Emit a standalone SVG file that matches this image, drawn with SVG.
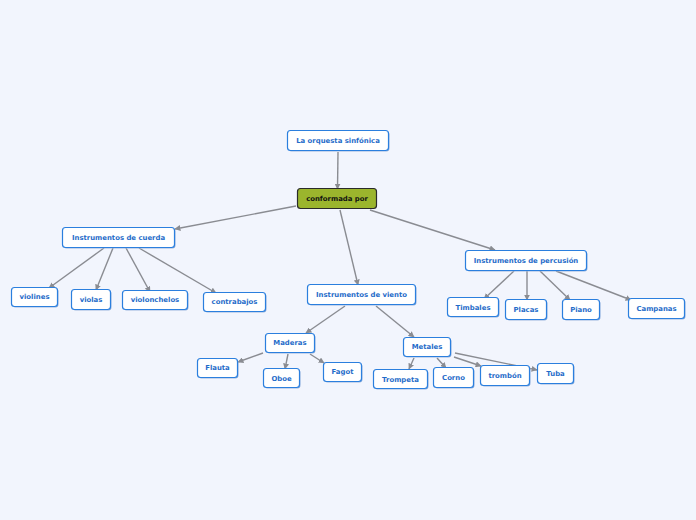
<svg xmlns="http://www.w3.org/2000/svg" width="696" height="520" viewBox="0 0 696 520">
<style>
.n rect.b{fill:#fff;stroke:#2b7fde;stroke-width:1.2}
.n rect.s{fill:#9bb6de}
.n text{font-family:"DejaVu Sans",Verdana,sans-serif;font-weight:bold;font-size:6.9px;fill:#1f6cc9;text-anchor:middle;dominant-baseline:central}
.r rect.b{fill:#9bb52d;stroke:#2a2a2a;stroke-width:1.2}
.r text{fill:#111}
.c line{stroke:#8a8c92;stroke-width:1.4;marker-end:url(#ah)}
</style>
<defs>
<marker id="ah" viewBox="0 0 10 10" refX="9" refY="5" markerWidth="6" markerHeight="6" markerUnits="userSpaceOnUse" orient="auto">
<path d="M0,0 L10,5 L0,10 Z" fill="#8a8c92"/>
</marker>
</defs>
<rect width="696" height="520" fill="#f2f5fd"/>
<g class="c">
<line x1="338" y1="152" x2="337.5" y2="189"/>
<line x1="296" y1="206" x2="175" y2="229"/>
<line x1="340" y1="210" x2="358" y2="285"/>
<line x1="370" y1="210" x2="495" y2="250"/>
<line x1="104" y1="248" x2="49" y2="288"/>
<line x1="113" y1="248" x2="96" y2="290"/>
<line x1="126" y1="248" x2="150" y2="292"/>
<line x1="139" y1="248" x2="216" y2="293"/>
<line x1="345" y1="306" x2="306" y2="333"/>
<line x1="376" y1="306" x2="414" y2="337"/>
<line x1="263" y1="353" x2="238" y2="362"/>
<line x1="288" y1="354" x2="285" y2="369"/>
<line x1="310" y1="354" x2="324" y2="363"/>
<line x1="414" y1="358" x2="409" y2="369"/>
<line x1="437" y1="358" x2="446" y2="368"/>
<line x1="454" y1="357" x2="481" y2="366"/>
<line x1="455" y1="353" x2="537" y2="370"/>
<line x1="514" y1="271" x2="484" y2="299"/>
<line x1="527" y1="271" x2="527" y2="300"/>
<line x1="540" y1="271" x2="570" y2="300"/>
<line x1="556" y1="271" x2="631" y2="300"/>
</g>
<g id="n-orquesta" class="n"><rect class="s" x="288.5" y="131.5" width="101" height="20" rx="3"/><rect class="b" x="287.5" y="130.5" width="101" height="20" rx="3"/><text x="338" y="140.5">La orquesta sinfónica</text></g>
<g id="n-conformada" class="n r"><rect class="b" x="297.5" y="188.5" width="79" height="20" rx="3"/><text x="337" y="198.5">conformada por</text></g>
<g id="n-cuerda" class="n"><rect class="s" x="63.5" y="228.5" width="112" height="20" rx="3"/><rect class="b" x="62.5" y="227.5" width="112" height="20" rx="3"/><text x="118.5" y="237.5">Instrumentos de cuerda</text></g>
<g id="n-violines" class="n"><rect class="s" x="12.5" y="288.5" width="46" height="19" rx="3"/><rect class="b" x="11.5" y="287.5" width="46" height="19" rx="3"/><text x="34.5" y="297">violines</text></g>
<g id="n-violas" class="n"><rect class="s" x="72.5" y="290.5" width="39" height="20" rx="3"/><rect class="b" x="71.5" y="289.5" width="39" height="20" rx="3"/><text x="91" y="299.5">violas</text></g>
<g id="n-violonchelos" class="n"><rect class="s" x="123.5" y="291.5" width="65" height="19" rx="3"/><rect class="b" x="122.5" y="290.5" width="65" height="19" rx="3"/><text x="155" y="300">violonchelos</text></g>
<g id="n-contrabajos" class="n"><rect class="s" x="204.5" y="293.5" width="62" height="19" rx="3"/><rect class="b" x="203.5" y="292.5" width="62" height="19" rx="3"/><text x="234.5" y="302">contrabajos</text></g>
<g id="n-viento" class="n"><rect class="s" x="308.5" y="285.5" width="108" height="20" rx="3"/><rect class="b" x="307.5" y="284.5" width="108" height="20" rx="3"/><text x="361.5" y="294.5">Instrumentos de viento</text></g>
<g id="n-maderas" class="n"><rect class="s" x="266.5" y="334.5" width="49" height="19" rx="3"/><rect class="b" x="265.5" y="333.5" width="49" height="19" rx="3"/><text x="290" y="343">Maderas</text></g>
<g id="n-flauta" class="n"><rect class="s" x="198.5" y="359.5" width="40" height="19" rx="3"/><rect class="b" x="197.5" y="358.5" width="40" height="19" rx="3"/><text x="217.5" y="368">Flauta</text></g>
<g id="n-oboe" class="n"><rect class="s" x="264.5" y="369.5" width="36" height="19" rx="3"/><rect class="b" x="263.5" y="368.5" width="36" height="19" rx="3"/><text x="281.5" y="378.5">Oboe</text></g>
<g id="n-fagot" class="n"><rect class="s" x="324.5" y="363.5" width="38" height="19" rx="3"/><rect class="b" x="323.5" y="362.5" width="38" height="19" rx="3"/><text x="342.5" y="372">Fagot</text></g>
<g id="n-metales" class="n"><rect class="s" x="404.5" y="338.5" width="47" height="19" rx="3"/><rect class="b" x="403.5" y="337.5" width="47" height="19" rx="3"/><text x="427" y="347">Metales</text></g>
<g id="n-trompeta" class="n"><rect class="s" x="374.5" y="370.5" width="54" height="19" rx="3"/><rect class="b" x="373.5" y="369.5" width="54" height="19" rx="3"/><text x="400.5" y="379.5">Trompeta</text></g>
<g id="n-corno" class="n"><rect class="s" x="434.5" y="368.5" width="40" height="20" rx="3"/><rect class="b" x="433.5" y="367.5" width="40" height="20" rx="3"/><text x="453.5" y="377.5">Corno</text></g>
<g id="n-trombon" class="n"><rect class="s" x="481.5" y="366.5" width="49" height="20" rx="3"/><rect class="b" x="480.5" y="365.5" width="49" height="20" rx="3"/><text x="505" y="375.5">trombón</text></g>
<g id="n-tuba" class="n"><rect class="s" x="538.5" y="364.5" width="36" height="20" rx="3"/><rect class="b" x="537.5" y="363.5" width="36" height="20" rx="3"/><text x="555.5" y="373.5">Tuba</text></g>
<g id="n-percusion" class="n"><rect class="s" x="466.5" y="251.5" width="121" height="20" rx="3"/><rect class="b" x="465.5" y="250.5" width="121" height="20" rx="3"/><text x="526" y="260.5">Instrumentos de percusión</text></g>
<g id="n-timbales" class="n"><rect class="s" x="448.5" y="298.5" width="51" height="19" rx="3"/><rect class="b" x="447.5" y="297.5" width="51" height="19" rx="3"/><text x="473" y="307.5">Timbales</text></g>
<g id="n-placas" class="n"><rect class="s" x="506.5" y="300.5" width="41" height="20" rx="3"/><rect class="b" x="505.5" y="299.5" width="41" height="20" rx="3"/><text x="526" y="310">Placas</text></g>
<g id="n-piano" class="n"><rect class="s" x="563.5" y="300.5" width="37" height="20" rx="3"/><rect class="b" x="562.5" y="299.5" width="37" height="20" rx="3"/><text x="581" y="310">Piano</text></g>
<g id="n-campanas" class="n"><rect class="s" x="629.5" y="299.5" width="56" height="20" rx="3"/><rect class="b" x="628.5" y="298.5" width="56" height="20" rx="3"/><text x="656.5" y="308.5">Campanas</text></g>
</svg>
